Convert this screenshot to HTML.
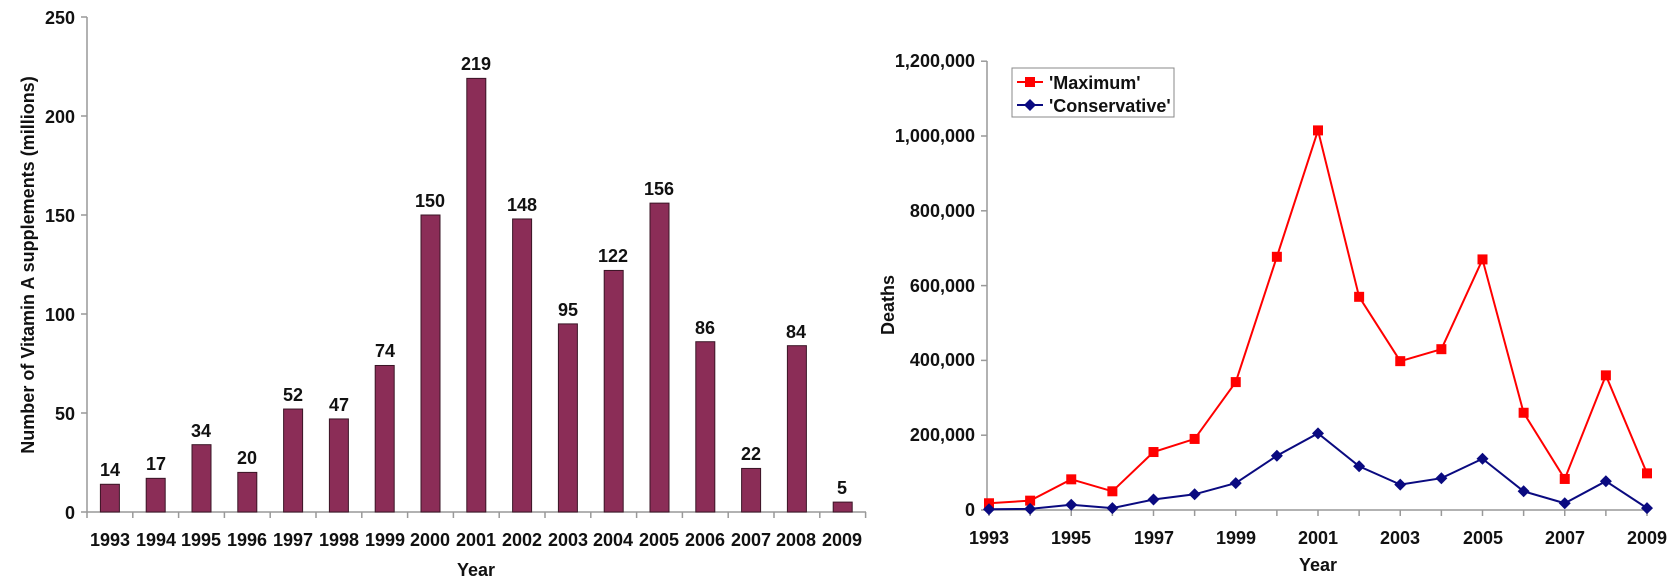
<!DOCTYPE html>
<html><head><meta charset="utf-8"><style>
body{margin:0;background:#fff;}
svg{display:block;font-family:"Liberation Sans",Arial,sans-serif;font-weight:bold;}
</style></head><body>
<svg id="s" width="1676" height="588" viewBox="0 0 1676 588" xmlns="http://www.w3.org/2000/svg">
<g stroke="#999" stroke-width="1.5" fill="none">
<line x1="87" y1="17" x2="87" y2="512"/>
<line x1="87" y1="512" x2="866" y2="512"/>
<line x1="987" y1="61" x2="987" y2="510"/>
<line x1="987" y1="510" x2="1649" y2="510"/>
</g>
<g id="lt" stroke="#999" stroke-width="1.5"></g>
<g font-size="18" text-anchor="end" fill="#111">
<text x="75" y="24">250</text><text x="75" y="123">200</text><text x="75" y="222">150</text><text x="75" y="321">100</text><text x="75" y="420">50</text><text x="75" y="519">0</text>
</g>
<g id="bars" fill="#8B2D57" stroke="#3a1526" stroke-width="1"></g>
<g font-size="18" text-anchor="middle" fill="#111">
<text x="110" y="476">14</text><text x="156" y="470">17</text><text x="201" y="437">34</text><text x="247" y="464">20</text><text x="293" y="401">52</text><text x="339" y="411">47</text><text x="385" y="357">74</text><text x="430" y="207">150</text><text x="476" y="70">219</text><text x="522" y="211">148</text><text x="568" y="316">95</text><text x="613" y="262">122</text><text x="659" y="195">156</text><text x="705" y="334">86</text><text x="751" y="460">22</text><text x="796" y="338">84</text><text x="842" y="494">5</text>
</g>
<g font-size="18" text-anchor="middle" fill="#111">
<text x="110" y="546">1993</text><text x="156" y="546">1994</text><text x="201" y="546">1995</text><text x="247" y="546">1996</text><text x="293" y="546">1997</text><text x="339" y="546">1998</text><text x="385" y="546">1999</text><text x="430" y="546">2000</text><text x="476" y="546">2001</text><text x="522" y="546">2002</text><text x="568" y="546">2003</text><text x="613" y="546">2004</text><text x="659" y="546">2005</text><text x="705" y="546">2006</text><text x="751" y="546">2007</text><text x="796" y="546">2008</text><text x="842" y="546">2009</text>
<text x="476" y="576">Year</text>
<text transform="translate(34,265) rotate(-90)">Number of Vitamin A supplements (millions)</text>
</g>
<g font-size="18" text-anchor="end" fill="#111">
<text x="975" y="67">1,200,000</text><text x="975" y="142">1,000,000</text><text x="975" y="217">800,000</text><text x="975" y="292">600,000</text><text x="975" y="366">400,000</text><text x="975" y="441">200,000</text><text x="975" y="516">0</text>
</g>
<g font-size="18" text-anchor="middle" fill="#111">
<text x="989" y="544">1993</text><text x="1071" y="544">1995</text><text x="1154" y="544">1997</text><text x="1236" y="544">1999</text><text x="1318" y="544">2001</text><text x="1400" y="544">2003</text><text x="1483" y="544">2005</text><text x="1565" y="544">2007</text><text x="1647" y="544">2009</text>
<text x="1318" y="571">Year</text>
<text transform="translate(894,305) rotate(-90)">Deaths</text>
</g>
<g id="lines"></g>
<rect x="1012" y="68" width="162" height="49" fill="#fff" stroke="#888" stroke-width="1"/>
<line x1="1017" y1="82" x2="1043" y2="82" stroke="#f00" stroke-width="2"/><rect x="1025" y="77" width="10" height="10" fill="#f00"/>
<line x1="1017" y1="105" x2="1043" y2="105" stroke="#0a0a80" stroke-width="2"/><polygon points="1030,99 1036,105 1030,111 1024,105" fill="#0a0a80"/>
<g font-size="18" fill="#111"><text x="1049" y="89">'Maximum'</text><text x="1049" y="112">'Conservative'</text></g>
</svg>
<script>
var NS="http://www.w3.org/2000/svg";
function el(p,t,a){var e=document.createElementNS(NS,t);for(var k in a)e.setAttribute(k,a[k]);document.getElementById(p).appendChild(e);}
var v=[14,17,34,20,52,47,74,150,219,148,95,122,156,86,22,84,5];
for(var i=0;i<17;i++){var cx=87+45.8*(i+0.5);var y=512-v[i]*1.98;el("bars","rect",{x:cx-9.5,y:y,width:19,height:512-y});}
for(var i=0;i<=17;i++){var x=87+45.8*i;el("lt","line",{x1:x,y1:512,x2:x,y2:518});}
for(var i=0;i<=6;i++){el("lt","line",{x1:81,y1:512-99*i,x2:87,y2:512-99*i});el("lt","line",{x1:981,y1:510-74.8*i,x2:987,y2:510-74.8*i});}
for(var i=0;i<17;i++){var x=989+41.125*i;el("lt","line",{x1:x,y1:510,x2:x,y2:516});}
var mx=[18,25,82,50,155,190,342,677,1015,570,398,430,670,260,83,360,98];
var cs=[2,3,14,5,28,42,72,145,205,117,68,85,137,50,18,77,5];
function Y(k){return 510-k*1000*74.8/200000;}
var p1=[],p2=[];
for(var i=0;i<17;i++){var x=989+41.125*i;p1.push(x+","+Y(mx[i]));p2.push(x+","+Y(cs[i]));}
el("lines","polyline",{points:p1.join(" "),fill:"none",stroke:"#f00","stroke-width":2});
el("lines","polyline",{points:p2.join(" "),fill:"none",stroke:"#0a0a80","stroke-width":2});
for(var i=0;i<17;i++){var x=989+41.125*i;var a=Y(mx[i]),b=Y(cs[i]);
el("lines","rect",{x:x-5,y:a-5,width:10,height:10,fill:"#f00"});
el("lines","polygon",{points:(x)+","+(b-6)+" "+(x+6)+","+b+" "+x+","+(b+6)+" "+(x-6)+","+b,fill:"#0a0a80"});}
</script>
</body></html>
